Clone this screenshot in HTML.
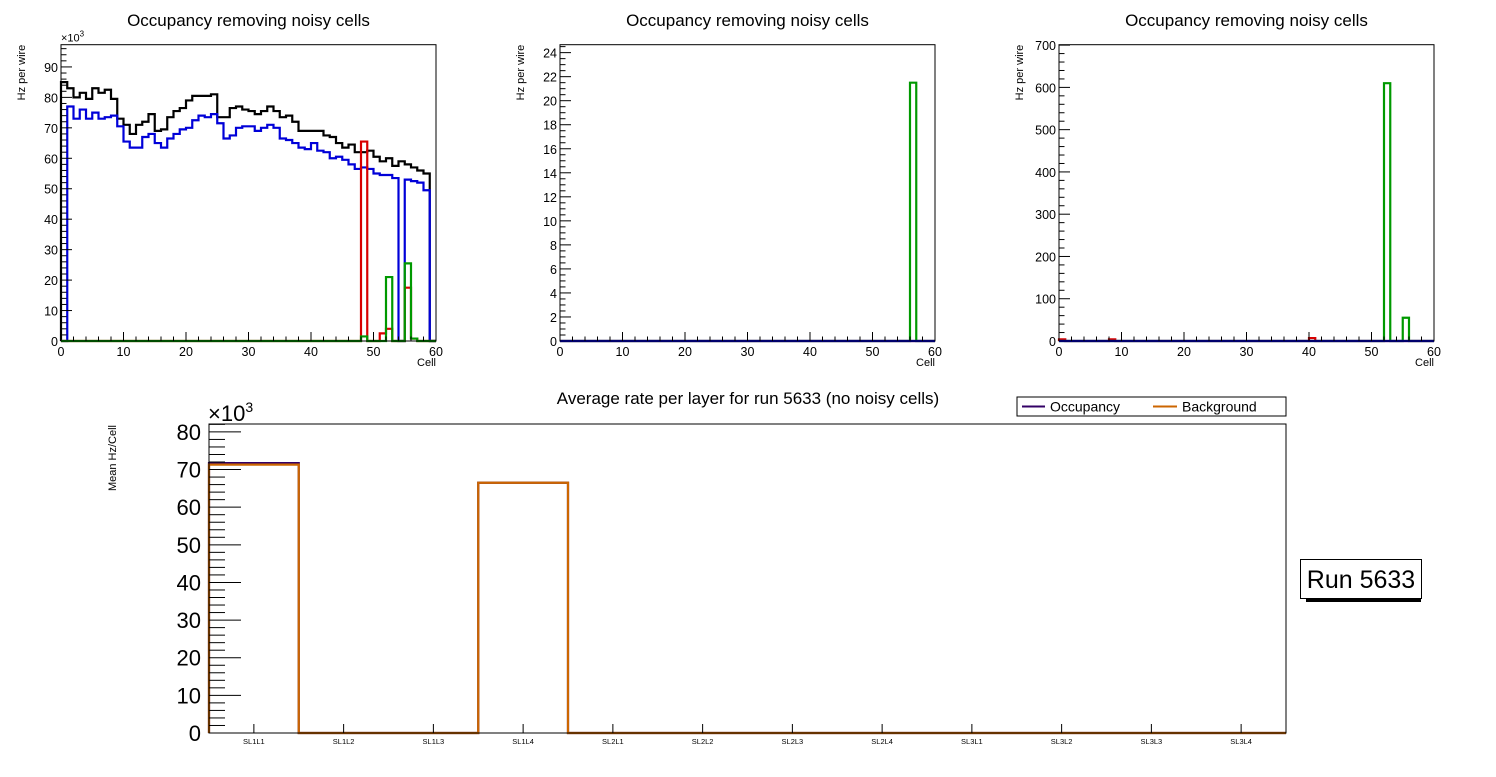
<!DOCTYPE html>
<html><head><meta charset="utf-8">
<style>
body{margin:0;background:#fff;width:1496px;height:772px;overflow:hidden}
svg{font-family:"Liberation Sans",Arial,sans-serif}
</style></head>
<body>
<svg id="c" width="1496" height="772" xmlns="http://www.w3.org/2000/svg"></svg>
<script>
// Panel 1 data (Hz per wire, x10^3), 60 cells
const p1Black=[85,83,80,81.5,79.5,83,81.5,82.5,79.5,73,71,68,71,72,74.5,69,69.5,73.5,75.5,76.5,79,80.5,80.5,80.5,81,73.5,73.5,76.5,77,76,75.5,74.5,75.5,77,75.5,73.5,74,72,69,69,69,69,67.5,67,65,63.5,64.5,62,62,62.5,60.5,59,60,57.5,59,58,57,56,55,0];
const p1Blue=[0,77,73,76,73,75,73,73.5,74,70.5,65.5,63.5,63.5,67,68,65,63.5,66.5,68,69.5,70,72.5,74,73.5,74.5,71.5,66.5,67.5,70,70.5,70.5,69,70,71,70,66.5,66,65,63.5,63,65,62.5,62,60,60.5,59.5,58,56.5,57,56.5,55,54.5,54.5,53.5,0,53,52.5,52,49.5,0];
const p1RedIdx=[48,51,52,55,56];
const p1RedVal=[65.5,2.5,4,17.5,0.8];
const p1GreenIdx=[48,52,55,56];
const p1GreenVal=[1.5,21,25.5,0.8];
// Panel 2
const p2GreenIdx=[56];
const p2GreenVal=[21.5];
// Panel 3
const p3GreenIdx=[52,55];
const p3GreenVal=[610,55];
const p3RedIdx=[0,8,40];
const p3RedVal=[4,4,7];
// Bottom chart
const layers=["SL1L1","SL1L2","SL1L3","SL1L4","SL2L1","SL2L2","SL2L3","SL2L4","SL3L1","SL3L2","SL3L3","SL3L4"];
const occupancy=[71.7,0,0,66.5,0,0,0,0,0,0,0,0];
const background=[71.3,0,0,66.5,0,0,0,0,0,0,0,0];

const NS="http://www.w3.org/2000/svg";
const svg=document.getElementById('c');
function el(tag,attrs,parent,txt){const e=document.createElementNS(NS,tag);for(const k in attrs)e.setAttribute(k,attrs[k]);if(txt!==undefined)e.textContent=txt;(parent||svg).appendChild(e);return e;}
function sparse(idx,val){const a=new Array(60).fill(0);idx.forEach((i,k)=>a[i]=val[k]);return a;}

function panel(cfg){
  const g=el('g',{});
  
  
  const {L,R,T,B,ymax}=cfg;
  const xs=v=>L+(R-L)*v/60, ys=v=>B-(B-T)*v/ymax;
  const t=el('text',{x:(L+R)/2,y:26,'font-size':17,'text-anchor':'middle'},g,'Occupancy removing noisy cells');
  
  cfg.series.forEach(s=>{
    let d=`M${xs(0)},${ys(0)}`;
    s.data.forEach((v,i)=>{d+=` L${xs(i)},${ys(v)} L${xs(i+1)},${ys(v)}`;});
    d+=` L${xs(60)},${ys(0)}`;
    const p=el('path',{d,fill:'none',stroke:s.color,'stroke-width':2.2},g);
    
  });
  const fr=el('rect',{x:L,y:T,width:R-L,height:B-T,fill:'none',stroke:'#000','stroke-width':1},g);
  
  for(let v=0;v<=60;v+=2){const len=v%10===0?9:4.5;el('line',{x1:xs(v),x2:xs(v),y1:B,y2:B-len,stroke:'#000'},g);}
  for(let v=0;v<=60;v+=10){const tx=el('text',{x:xs(v),y:B+15,'font-size':12.5,'text-anchor':'middle'},g,String(v));}
  for(let v=0;v<=ymax+1e-9;v+=cfg.minor){const maj=Math.abs(v/cfg.major-Math.round(v/cfg.major))<1e-6;el('line',{x1:L,x2:L+(maj?11:5.5),y1:ys(v),y2:ys(v),stroke:'#000'},g);}
  for(let v=0;v<=ymax+1e-9;v+=cfg.major){const tx=el('text',{x:L-3,y:ys(v)+5,'font-size':12.5,'text-anchor':'end'},g,String(Math.round(v)));}
  const yt=el('text',{x:0,y:0,'font-size':11,'text-anchor':'end',transform:`translate(${L-36},${T}) rotate(-90)`},g,'Hz per wire');
  
  const xt=el('text',{x:R,y:B+25,'font-size':11,'text-anchor':'end'},g,'Cell');
  
  if(cfg.exp){const e=el('text',{x:L,y:T-3,'font-size':11},g);
    el('tspan',{},e,'×10');el('tspan',{dy:-5,'font-size':8},e,'3');}
}
const T=44.7,B=341;
panel({name:'panel-1',L:61,R:436,T,B,ymax:97.3,major:10,minor:2,exp:true,series:[
  {name:'series-black',color:'#000',data:p1Black},
  {name:'series-blue',color:'#0000d8',data:p1Blue},
  {name:'series-red',color:'#d80000',data:sparse(p1RedIdx,p1RedVal)},
  {name:'series-green',color:'#009900',data:sparse(p1GreenIdx,p1GreenVal)}]});
panel({name:'panel-2',L:560,R:935,T,B,ymax:24.66,major:2,minor:0.5,series:[
  {name:'series-red',color:'#d80000',data:new Array(60).fill(0)},
  {name:'series-green',color:'#009900',data:sparse(p2GreenIdx,p2GreenVal)},
  {name:'series-blue',color:'#0000d8',data:new Array(60).fill(0)}]});
panel({name:'panel-3',L:1059,R:1434,T,B,ymax:701,major:100,minor:20,series:[
  {name:'series-red',color:'#d80000',data:sparse(p3RedIdx,p3RedVal)},
  {name:'series-green',color:'#009900',data:sparse(p3GreenIdx,p3GreenVal)},
  {name:'series-blue',color:'#0000d8',data:new Array(60).fill(0)}]});

(function(){
  const g=el('g',{});
  
  const L=209,R=1286,T=424,B=733,ymax=82.1,n=layers.length;
  const xs=i=>L+(R-L)*i/n, ys=v=>B-(B-T)*v/ymax;
  const t=el('text',{x:748,y:404,'font-size':17,'text-anchor':'middle'},g,'Average rate per layer for run 5633 (no noisy cells)');
  
  [['occupancy-series','#330066',occupancy],['background-series','#cc6600',background]].forEach(([nm,col,data])=>{
    let d=`M${xs(0)},${ys(0)}`;
    data.forEach((v,i)=>{d+=` L${xs(i)},${ys(v)} L${xs(i+1)},${ys(v)}`;});
    d+=` L${xs(n)},${ys(0)}`;
    const p=el('path',{d,fill:'none',stroke:col,'stroke-width':2.2},g);
    
  });
  const fr=el('rect',{x:L,y:T,width:R-L,height:B-T,fill:'none',stroke:'#000'},g);
  
  for(let v=0;v<=ymax;v+=2){const maj=v%10===0;el('line',{x1:L,x2:L+(maj?32:16),y1:ys(v),y2:ys(v),stroke:'#000'},g);}
  for(let v=0;v<=80;v+=10){const tx=el('text',{x:L-8,y:ys(v)+8,'font-size':22,'text-anchor':'end'},g,String(v));}
  layers.forEach((lab,i)=>{const cx=(xs(i)+xs(i+1))/2;el('line',{x1:cx,x2:cx,y1:B,y2:B-9,stroke:'#000'},g);
    const tx=el('text',{x:cx,y:B+11,'font-size':7.5,'text-anchor':'middle'},g,lab);});
  const e=el('text',{x:208,y:421,'font-size':22},g);
  el('tspan',{},e,'×10');el('tspan',{dy:-9,'font-size':14},e,'3');
  const yt=el('text',{x:0,y:0,'font-size':11,'text-anchor':'end',transform:`translate(116,425) rotate(-90)`},g,'Mean Hz/Cell');
  
  const lg=el('g',{},g);
  el('rect',{x:1017,y:397,width:269,height:19,fill:'#fff',stroke:'#000'},lg);
  const e1=el('g',{},lg);
  el('line',{x1:1022,x2:1045,y1:406.5,y2:406.5,stroke:'#330066','stroke-width':2},e1);
  el('text',{x:1050,y:411.5,'font-size':14},e1,'Occupancy');
  const e2=el('g',{},lg);
  el('line',{x1:1153,x2:1177,y1:406.5,y2:406.5,stroke:'#cc6600','stroke-width':2},e2);
  el('text',{x:1182,y:411.5,'font-size':14},e2,'Background');
  const rb=el('g',{},g);
  el('rect',{x:1300.5,y:559.5,width:121,height:39,fill:'#fff',stroke:'#000'},rb);
  el('rect',{x:1306,y:598,width:115,height:4,fill:'#000'},rb);
  el('text',{x:1361,y:588,'font-size':25,'text-anchor':'middle'},rb,'Run 5633');
})();
</script>
</body></html>
